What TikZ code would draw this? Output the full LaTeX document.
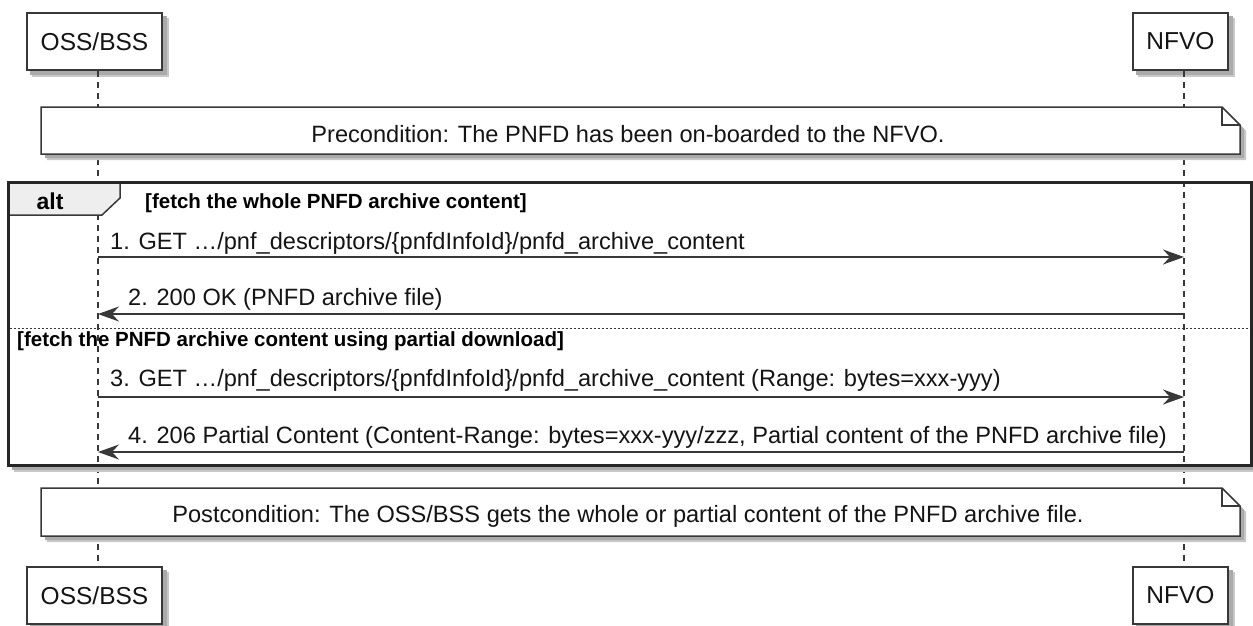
\documentclass[tikz,border=0pt]{standalone}
\usepackage{fontspec}
\setmainfont{Liberation Sans}
\usetikzlibrary{arrows.meta}
\definecolor{linec}{RGB}{56,56,56}
\definecolor{tabc}{RGB}{238,238,238}
\definecolor{txtc}{RGB}{20,20,20}
\definecolor{shdA}{RGB}{200,200,200}
\definecolor{shdB}{RGB}{170,170,170}
\pgfdeclarelayer{bg}
\pgfsetlayers{bg,main}
\begin{document}
\begin{tikzpicture}[x=1pt,y=-1pt,
  part/.style={draw=linec,line width=1.6pt,fill=white,minimum height=57pt,inner sep=0pt,
    font=\fontsize{24.5}{28}\selectfont,text=txtc},
  life/.style={draw=linec,line width=1.2pt,dash pattern=on 6pt off 5pt},
  msg/.style={draw=linec,line width=1.5pt,-{Stealth[length=21pt,width=15pt,inset=7pt]}},
  mtxt/.style={anchor=base west,inner sep=0pt,font=\fontsize{23.6}{27}\selectfont,text=txtc},
  gtxt/.style={anchor=base west,inner sep=0pt,font=\bfseries\fontsize{20.5}{24}\selectfont,text=black},
  notebox/.style={draw=linec,line width=1.5pt,fill=white},
  ntxt/.style={anchor=base,inner sep=0pt,font=\fontsize{23.6}{27}\selectfont,text=txtc},
]
\useasboundingbox (0,0) rectangle (1253,625);

% participants
\node[part,minimum width=135pt] (ossTop) at (94.5,41.5) {OSS/BSS};
\node[part,minimum width=95pt] (nfvoTop) at (1180.5,41.5) {NFVO};
\node[part,minimum width=135pt] (ossBot) at (94.5,595.5) {OSS/BSS};
\node[part,minimum width=95pt] (nfvoBot) at (1180.5,595.5) {NFVO};
\begin{pgfonlayer}{bg}
  \fill[white] (0,0) rectangle (1253,625);
  \foreach \n in {ossTop,nfvoTop,ossBot,nfvoBot}{
    \fill[shdA] ([shift={(6,6)}]\n.north west) rectangle ([shift={(6,6)}]\n.south east);
    \fill[shdB] ([shift={(4,4)}]\n.north west) rectangle ([shift={(4,4)}]\n.south east);
  }
\end{pgfonlayer}

% lifeline x positions
\coordinate (ossL) at (98,0);
\coordinate (nfvoL) at (1184,0);

\draw[life] (ossTop.south -| ossL) -- (ossBot.north -| ossL);
\draw[life] (nfvoTop.south -| nfvoL) -- (nfvoBot.north -| nfvoL);

% precondition note
\fill[shdA] (47,113) -- (1228,113) -- (1246,131) -- (1246,160) -- (47,160) -- cycle;
\fill[shdB] (45,111) -- (1226,111) -- (1244,129) -- (1244,158) -- (45,158) -- cycle;
\path[notebox] (41,107) -- (1222,107) -- (1240,125) -- (1240,154) -- (41,154) -- cycle;
\draw[linec,line width=1.5pt] (1222,107) -- (1222,125) -- (1240,125);
\node[ntxt] (pre) at (628,142) {Precondition: The PNFD has been on-boarded to the NFVO.};

% alt frame
\fill[shdA] (14,467) rectangle (1253,472);
\fill[shdB] (12,466) rectangle (1253,469.5);
\draw[linec,line width=1.5pt,fill=tabc] (8,182) -- (120,182) -- (120,198) -- (102,215) -- (8,215) -- cycle;
\draw[black!85,line width=3pt] (8,182) rectangle (1251,465);
\node[anchor=base,inner sep=0pt,font=\bfseries\fontsize{23}{26}\selectfont] (alt) at (50,209) {alt};
\node[gtxt] (g1) at (145,208) {[fetch the whole PNFD archive content]};
\draw[linec,line width=1pt,dash pattern=on 2pt off 2pt] (9.5,328) -- (1249.5,328);
\node[gtxt] (g2) at (17,346) {[fetch the PNFD archive content using partial download]};

% messages
\coordinate (y1) at (0,257);
\coordinate (y2) at (0,314);
\coordinate (y3) at (0,397);
\coordinate (y4) at (0,452);
\draw[msg] (ossL |- y1) -- (nfvoL |- y1);
\node[mtxt] (t1) at (110,249) {1. GET …/pnf\_descriptors/\{pnfdInfoId\}/pnfd\_archive\_content};
\draw[msg] (nfvoL |- y2) -- (ossL |- y2);
\node[mtxt] (t2) at (128,305) {2. 200 OK (PNFD archive file)};
\draw[msg] (ossL |- y3) -- (nfvoL |- y3);
\node[mtxt] (t3) at (110,386) {3. GET …/pnf\_descriptors/\{pnfdInfoId\}/pnfd\_archive\_content (Range: bytes=xxx-yyy)};
\draw[msg] (nfvoL |- y4) -- (ossL |- y4);
\node[mtxt] (t4) at (128,443) {4. 206 Partial Content (Content-Range: bytes=xxx-yyy/zzz, Partial content of the PNFD archive file)};

% postcondition note
\fill[shdA] (47,494) -- (1228,494) -- (1246,512) -- (1246,542) -- (47,542) -- cycle;
\fill[shdB] (45,492) -- (1226,492) -- (1244,510) -- (1244,540) -- (45,540) -- cycle;
\path[notebox] (41,488) -- (1222,488) -- (1240,506) -- (1240,536) -- (41,536) -- cycle;
\draw[linec,line width=1.5pt] (1222,488) -- (1222,506) -- (1240,506);
\node[ntxt] (post) at (628,522) {Postcondition: The OSS/BSS gets the whole or partial content of the PNFD archive file.};
\end{tikzpicture}
\end{document}
